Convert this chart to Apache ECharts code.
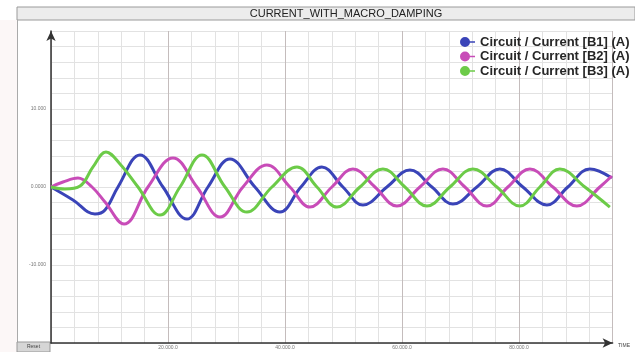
<!DOCTYPE html>
<html><head><meta charset="utf-8">
<script src="https://cdn.jsdelivr.net/npm/echarts@6/dist/echarts.min.js"></script>
<style>html,body{margin:0;padding:0;background:#fff}#c{width:635px;height:352px}</style>
</head><body><div id="c"></div>
<script>
const chartTitle = 'CURRENT_WITH_MACRO_DAMPING';
const seriesNames = ['Circuit / Current [B1] (A)', 'Circuit / Current [B2] (A)', 'Circuit / Current [B3] (A)'];
const b1Time = [0,3.76,7.52,9.23,11.45,15.21,19.14,23.24,26.83,30.59,34.86,39.13,42.72,46.31,49.90,53.32,57.42,61.35,65.11,68.70,72.80,76.73,80.66,84.77,88.35,92.11,95.87];
const b1Vals = [0,-1.66,-3.46,-2.95,0,4.11,0,-4.11,0,3.60,0,-3.21,0,2.57,0,-2.31,0,2.18,0,-2.18,0,2.31,0,-2.31,0,2.31,1.15];
const b2Time = [0,2.05,4.61,7.01,9.23,12.48,16.58,20.85,24.95,28.88,32.81,36.91,40.84,44.26,48.02,51.61,55.37,59.13,63.06,66.99,70.75,74.51,78.10,81.86,85.79,89.89,93.82,95.87];
const b2Vals = [0,0.64,1.15,0,-1.92,-4.75,0,3.72,0,-3.85,0,2.83,0,-2.57,0,2.31,0,-2.44,0,2.31,0,-2.44,0,2.31,0,-2.44,0,1.41];
const b3Time = [0,2.39,4.96,7.18,9.40,11.79,14.87,18.63,22.05,25.81,29.74,33.50,37.77,42.04,45.46,48.88,52.81,56.74,60.50,64.26,68.19,72.12,76.22,80.15,83.57,86.98,91.26,95.53];
const b3Vals = [0,-0.26,0.12,2.57,4.49,2.95,0,-3.60,0,4.11,0,-3.21,0,2.57,0,-2.57,0,2.31,0,-2.44,0,2.31,0,-2.44,0,2.31,0,-2.57];
const xTickLabels = {20:'20.000.0', 40:'40.000.0', 60:'60.000.0', 80:'80.000.0'};
const yTickLabels = {10:'10.000', 0:'0.0000', '-10':'-10.000'};

const colors = ['#3a44b8', '#c84cb8', '#6ccb48'];
const pairs = (t, v) => t.map((x, i) => [x, v[i]]);
const chart = echarts.init(document.getElementById('c'), null, {renderer: 'canvas'});
const icon = 'path://M0,5 A5,5 0 1,1 10,5 A5,5 0 1,1 0,5 Z M9,4.2 L15,4.2 L15,5.8 L9,5.8 Z';
chart.setOption({
  animation: false,
  backgroundColor: '#ffffff',
  grid: {left: 51, right: 22.4, top: 31, bottom: 9},
  legend: {
    orient: 'vertical', left: 455, top: 30, itemGap: 0.5, itemWidth: 15, itemHeight: 10,
    icon: icon,
    textStyle: {fontFamily: 'Liberation Sans', fontSize: 13, lineHeight: 14, fontWeight: 'bold', color: '#262626'},
    data: seriesNames
  },
  xAxis: {
    type: 'value', min: 0, max: 96, interval: 20,
    axisLine: {show: true, onZero: false, lineStyle: {color: '#333', width: 1.5}, symbol: ['none', 'arrow'], symbolSize: [7, 10]},
    axisTick: {show: false},
    axisLabel: {fontSize: 5, color: '#777', margin: 2, formatter: v => xTickLabels[v] || ''},
    splitLine: {show: true, lineStyle: {color: '#c4bcbc', width: 1}},
    minorTick: {show: false, splitNumber: 5},
    minorSplitLine: {show: true, lineStyle: {color: '#e2e2e2', width: 1}}
  },
  yAxis: {
    type: 'value', min: -20, max: 20, interval: 2,
    axisLine: {show: true, onZero: false, lineStyle: {color: '#333', width: 1.5}, symbol: ['none', 'arrow'], symbolSize: [7, 10]},
    axisTick: {show: false},
    axisLabel: {fontSize: 5, color: '#777', margin: 5, formatter: v => yTickLabels[v] || ''},
    splitLine: {show: true, lineStyle: {color: '#e2e2e2', width: 1}}
  },
  series: [
    {name: seriesNames[0], type: 'line', data: pairs(b1Time, b1Vals), smooth: 0.4, showSymbol: false, lineStyle: {width: 3, color: colors[0]}, itemStyle: {color: colors[0]}},
    {name: seriesNames[1], type: 'line', data: pairs(b2Time, b2Vals), smooth: 0.4, showSymbol: false, lineStyle: {width: 3, color: colors[1]}, itemStyle: {color: colors[1]}},
    {name: seriesNames[2], type: 'line', data: pairs(b3Time, b3Vals), smooth: 0.4, showSymbol: false, lineStyle: {width: 3, color: colors[2]}, itemStyle: {color: colors[2]}}
  ],
  graphic: [
    {type: 'rect', shape: {x: 0, y: 20, width: 17, height: 332}, style: {fill: '#fcf7f7'}},
    {type: 'rect', shape: {x: 17, y: 7, width: 618, height: 13}, style: {fill: '#ececec', stroke: '#9a9a9a', lineWidth: 1}},
    {type: 'text', x: 346, y: 13.5, style: {text: chartTitle, fontFamily: 'Liberation Sans', fontSize: 11, fill: '#222', align: 'center', verticalAlign: 'middle'}},
    {type: 'line', shape: {x1: 17.5, y1: 20, x2: 17.5, y2: 352}, style: {stroke: '#aaa', lineWidth: 1}},
    {type: 'rect', shape: {x: 17, y: 342, width: 33, height: 10}, style: {fill: '#d6d6d6', stroke: '#999', lineWidth: 1}},
    {type: 'text', x: 33.5, y: 347, style: {text: 'Reset', fontFamily: 'Liberation Sans', fontSize: 5, fill: '#444', align: 'center', verticalAlign: 'middle'}},
    {type: 'text', x: 624, y: 346, style: {text: 'TIME', fontFamily: 'Liberation Sans', fontSize: 5, fill: '#444', align: 'center', verticalAlign: 'middle'}}
  ]
});
</script></body></html>
